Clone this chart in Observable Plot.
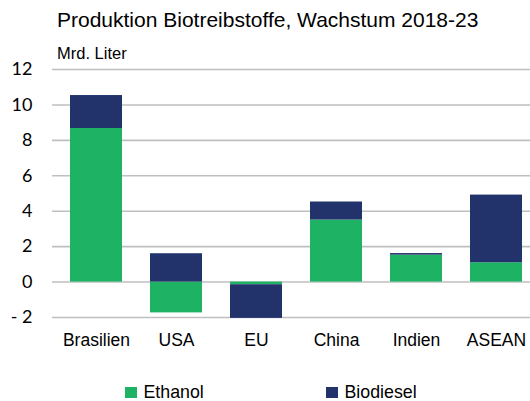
<!DOCTYPE html>
<html>
<head>
<meta charset="utf-8">
<script src="https://cdn.jsdelivr.net/npm/d3@7"></script>
<script src="https://cdn.jsdelivr.net/npm/@observablehq/plot@0.6"></script>
<style>
  body { margin: 0; background: #fff; font-family: "Liberation Sans", Arial, sans-serif; }
  #wrap { width: 530px; height: 401px; position: relative; overflow: hidden; }
  #title { height: 40px; font-size: 21px; padding-left: 57px; line-height: 40px; color: #000; white-space: nowrap; }
  #subtitle { height: 14px; font-size: 16.5px; padding-left: 57px; line-height: 26px; color: #000; white-space: nowrap; }
  #legend { position: relative; height: 44px; font-size: 17.8px; color: #000; }
  .item { position: absolute; top: 25px; display: flex; align-items: center; }
  .sw { width: 11.5px; height: 11.5px; margin-right: 7px; }
  svg { display: block; }
</style>
</head>
<body>
<div id="wrap">
  <div id="title">Produktion Biotreibstoffe, Wachstum 2018-23</div>
  <div id="subtitle">Mrd. Liter</div>
  <div id="chart"></div>
  <div id="legend"></div>
</div>
<script>
const categories = ["Brasilien", "USA", "EU", "China", "Indien", "ASEAN"];
const seriesNames = ["Ethanol", "Biodiesel"];
const ethanol = [8.67, -1.74, -0.15, 3.5, 1.52, 1.09];
const biodiesel = [1.86, 1.6, -1.9, 1.02, 0.09, 3.82];
const yTicks = [-2, 0, 2, 4, 6, 8, 10, 12];
const colors = ["#1db264", "#22336b"];

const rows = [];
categories.forEach((c, i) => {
  rows.push({cat: c, series: "Ethanol", value: ethanol[i]});
  rows.push({cat: c, series: "Biodiesel", value: biodiesel[i]});
});

const chart = Plot.plot({
  width: 530,
  height: 303,
  marginLeft: 52,
  marginRight: 0,
  marginTop: 15,
  marginBottom: 40,
  style: {fontFamily: "'Liberation Sans', Arial, sans-serif", fontSize: "17.5px", color: "#000", background: "#fff"},
  x: {domain: categories, paddingInner: 0.356, paddingOuter: 0.136, align: 0.68, label: null},
  y: {domain: [-2, 12], label: null},
  color: {domain: seriesNames, range: colors},
  marks: [
    Plot.ruleY(yTicks, {stroke: "#bfbfbf", strokeWidth: 1.6}),
    Plot.barY(rows, {x: "cat", y: "value", fill: "series", order: seriesNames}),
    Plot.axisY(yTicks, {tickSize: 0, tickPadding: 20, fontSize: 18, fontFamily: "Lato, 'Liberation Sans', sans-serif",
      tickFormat: d => d < 0 ? "- " + Math.abs(d) : String(d)}),
    Plot.axisX({tickSize: 0, tickPadding: 16, fontSize: 17.5})
  ]
});
document.getElementById("chart").appendChild(chart);

const legend = document.getElementById("legend");
const lefts = [125, 326];
seriesNames.forEach((s, i) => {
  const it = document.createElement("div");
  it.className = "item";
  it.style.left = lefts[i] + "px";
  it.innerHTML = `<div class="sw" style="background:${colors[i]}"></div><span>${s}</span>`;
  legend.appendChild(it);
});
</script>
</body>
</html>
